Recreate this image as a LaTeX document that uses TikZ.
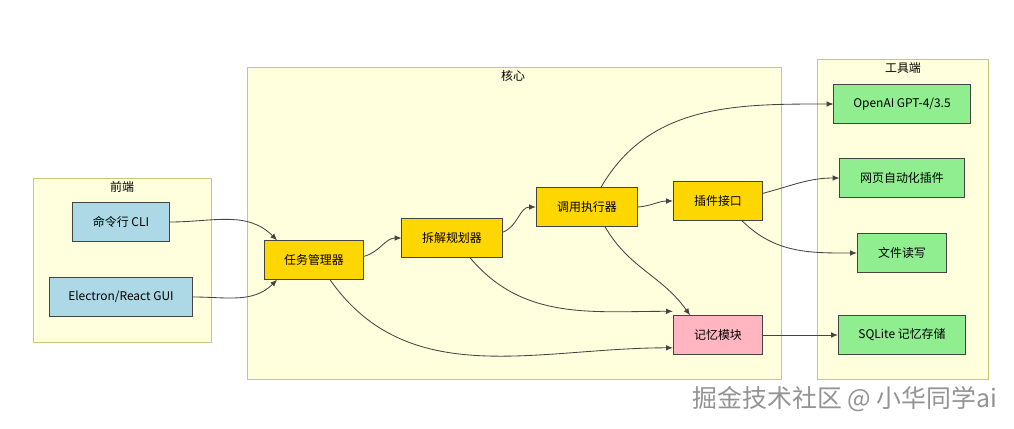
\documentclass[tikz,border=0pt]{standalone}
\usepackage{fontspec}
\setmainfont{Noto Sans CJK SC}
\usepackage{tikz}
\usetikzlibrary{arrows.meta,calc}

\definecolor{groupfill}{HTML}{FFFFDE}
\definecolor{groupline}{HTML}{C8C87A}
\definecolor{blueish}{HTML}{ADD8E6}
\definecolor{goldish}{HTML}{FFD700}
\definecolor{pinkish}{HTML}{FFB6C1}
\definecolor{greenish}{HTML}{90EE90}
\definecolor{edge}{HTML}{444444}

\begin{document}
\begin{tikzpicture}[x=0.025cm, y=-0.025cm]
        \tikzset{box/.style={draw=edge, line width=0.7pt, minimum height=0.96cm, inner sep=0pt, font=\fontsize{8.5}{10}\selectfont},
                 group/.style={draw=groupline, fill=groupfill, line width=0.6pt},
                 title/.style={font=\fontsize{8.5}{10}\selectfont},
                 link/.style={draw=edge, line width=0.6pt, -{Latex[length=1.7mm, width=1.4mm]}}}
        \useasboundingbox (0,0) rectangle (1014,428);

        % groups
        \draw[group] (33,178) rectangle (211,342);
        \node[title] (tfront) at (122,187) {前端};
        \draw[group] (247,67) rectangle (781,379);
        \node[title] (tcore) at (513,76) {核心};
        \draw[group] (817,59) rectangle (988,379);
        \node[title] (ttool) at (903,68) {工具端};

        % front end
        \node[box, fill=blueish, minimum width=2.43cm] (cli) at (121,222) {命令行 CLI};
        \node[box, fill=blueish, minimum width=3.58cm] (gui) at (121,297) {Electron/React GUI};

        % core
        \node[box, fill=goldish, minimum width=2.48cm] (task) at (314,260) {任务管理器};
        \node[box, fill=goldish, minimum width=2.5cm] (plan) at (452,238) {拆解规划器};
        \node[box, fill=goldish, minimum width=2.53cm] (exec) at (587,207) {调用执行器};
        \node[box, fill=goldish, minimum width=2.23cm] (plug) at (718,201) {插件接口};
        \node[box, fill=pinkish, minimum width=2.23cm] (mem) at (718,335) {记忆模块};

        % tools
        \node[box, fill=greenish, minimum width=3.4cm] (gpt) at (902,104) {OpenAI GPT-4/3.5};
        \node[box, fill=greenish, minimum width=3.1cm] (web) at (902,178) {网页自动化插件};
        \node[box, fill=greenish, minimum width=2.23cm] (file) at (902,253) {文件读写};
        \node[box, fill=greenish, minimum width=3.18cm] (sql) at (902,335) {SQLite 记忆存储};

        % links
        \draw[link] (cli.east) to[out=0, in=135] ([xshift=0.33cm]task.north west);
        \draw[link] (gui.east) to[out=0, in=-135] ([xshift=0.33cm]task.south west);
        \draw[link] ([yshift=-0.4cm]task.north east) to[out=15, in=180] (plan.west);
        \draw[link] ([xshift=0.4cm]task.south) to[out=-55, in=180] ([yshift=-0.32cm]mem.west);
        \draw[link] ([yshift=-0.35cm]plan.north east) to[out=20, in=180] (exec.west);
        \draw[link] ([xshift=0.45cm]plan.south) to[out=-50, in=180] ([yshift=0.1cm]mem.north west);
        \draw[link] ([xshift=0.35cm]exec.north) to[out=60, in=180] (gpt.west);
        \draw[link] (exec.east) to[out=5, in=180] (plug.west);
        \draw[link] ([xshift=0.45cm]exec.south) to[out=-60, in=125] ([xshift=-0.7cm]mem.north);
        \draw[link] ([yshift=-0.3cm]plug.north east) to[out=15, in=180] (web.west);
        \draw[link] ([xshift=0.6cm]plug.south) to[out=-45, in=180] (file.west);
        \draw[link] (mem.east) -- (sql.west);

        % watermark
        \node[text=gray!85, font=\fontsize{17.7}{20}\selectfont] (mark) at (845,399) {掘金技术社区 @ 小华同学ai};
\end{tikzpicture}
\end{document}
